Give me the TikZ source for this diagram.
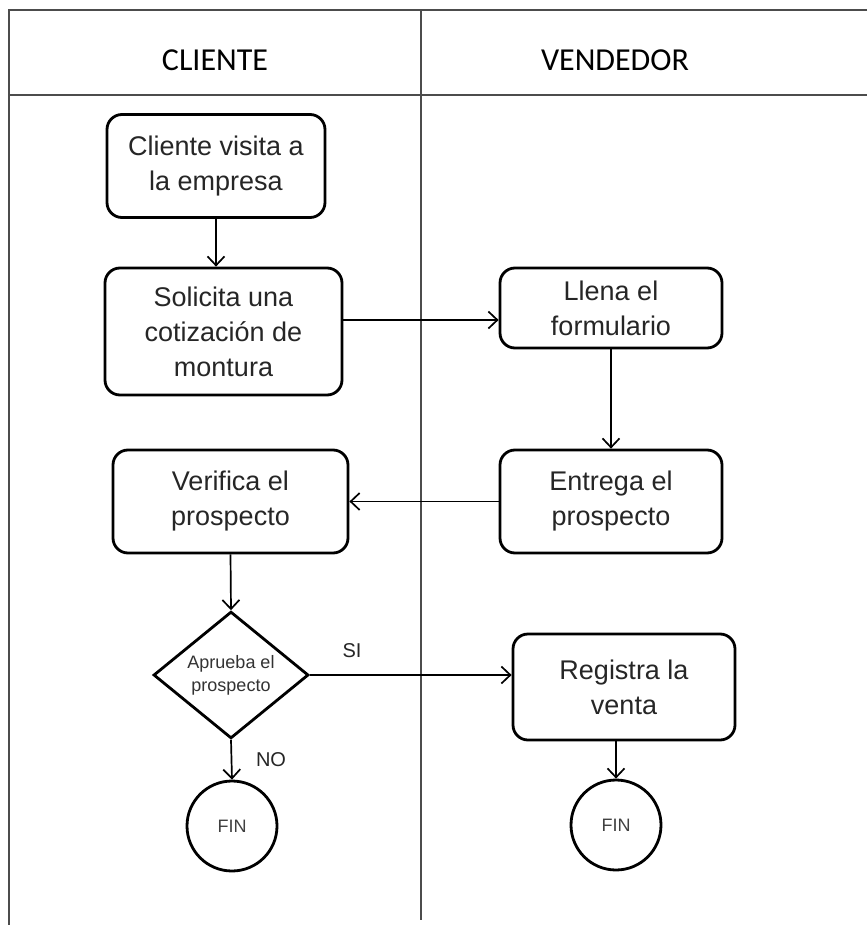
\documentclass[tikz,border=0pt]{standalone}
\usepackage{fontspec}
\setmainfont{Liberation Sans}
\newfontfamily\headfont{Carlito}
\usetikzlibrary{shapes.geometric,arrows.meta}
\begin{document}
\begin{tikzpicture}[x=1pt,y=-1pt,
  frame/.style={draw=black!70,line width=1.1pt},
  proc/.style={draw,rounded corners=15pt,line width=2.8pt,align=center,inner sep=0pt,
    font=\fontsize{27}{35}\selectfont,text=black!85},
  decision/.style={draw,diamond,line width=2.8pt,align=center,inner sep=0pt,
    minimum width=155pt,minimum height=126pt,font=\fontsize{18}{23}\selectfont,text=black!80},
  endc/.style={draw,circle,line width=2.8pt,minimum size=90pt,inner sep=0pt,
    font=\fontsize{18}{20}\selectfont,text=black!75},
  arr/.style={line width=1.7pt,-{Straight Barb[length=9pt,width=17pt,line width=1.7pt]}},
  lbl/.style={font=\fontsize{20}{24}\selectfont,text=black!85},
  head/.style={font=\headfont\fontsize{32}{38}\selectfont}
]
\useasboundingbox (0,0) rectangle (867,925);
\fill[white] (0,0) rectangle (867,925);
% swimlane frame
\coordinate (tl) at (9,10);
\coordinate (tr) at (867,10);
\coordinate (hl) at (9,95);
\coordinate (hr) at (867,95);
\coordinate (bl) at (9,925);
\coordinate (dt) at (421,10);
\coordinate (db) at (421,920);
\draw[frame] (tr) -- (tl) -- (bl);
\draw[frame] (hl) -- (hr);
\draw[frame] (dt) -- (db);
\node[head] (hc) at (215,60) {CLIENTE};
\node[head] (hv) at (615,60) {VENDEDOR};
% nodes
\node[proc,minimum width=218pt,minimum height=103pt] (visita) at (216,166) {Cliente visita a\\la empresa};
\node[proc,minimum width=237pt,minimum height=127pt] (solicita) at (223.5,331.5) {Solicita una\\cotización de\\montura};
\node[proc,minimum width=222pt,minimum height=80pt] (llena) at (611,308) {Llena el\\formulario};
\node[proc,minimum width=222pt,minimum height=103pt] (entrega) at (611,501.5) {Entrega el\\prospecto};
\node[proc,minimum width=235pt,minimum height=103pt] (verifica) at (230.5,501.5) {Verifica el\\prospecto};
\node[decision] (aprueba) at (231,675) {Aprueba el\\prospecto};
\node[proc,minimum width=222pt,minimum height=106pt] (registra) at (624,687) {Registra la\\venta};
\node[endc] (fin1) at (232,826) {FIN};
\node[endc] (fin2) at (616,825) {FIN};
% connectors
\draw[arr] (visita.south) -- (visita.south |- solicita.north);
\draw[arr] (solicita.east |- 0,320) -- (llena.west |- 0,320);
\draw[arr] (llena.south) -- (llena.south |- entrega.north);
\draw[arr] (entrega.west) -- (verifica.east);
\draw[arr] (verifica.south) -- (aprueba.north);
\draw[arr] (aprueba.east) -- (registra.west |- aprueba.east);
\draw[arr] (aprueba.south) -- (fin1.north);
\draw[arr] (registra.south -| fin2.north) -- (fin2.north);
\node[lbl] (si) at (352,651) {SI};
\node[lbl] (no) at (271,760) {NO};
\end{tikzpicture}
\end{document}
